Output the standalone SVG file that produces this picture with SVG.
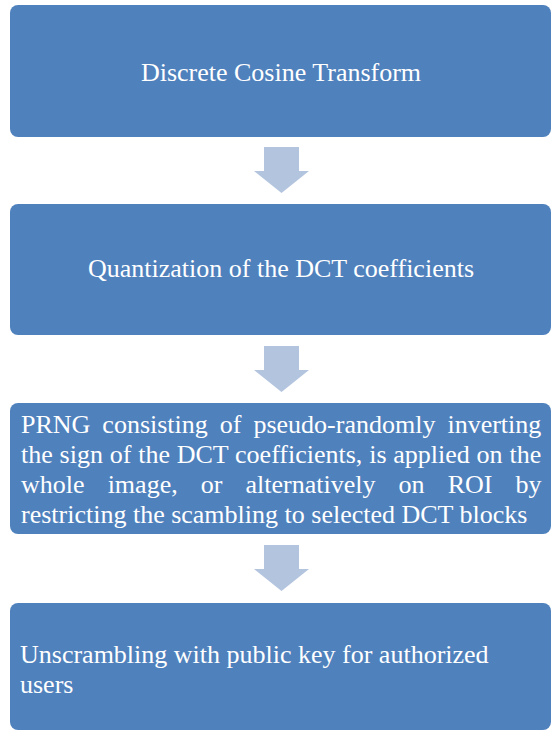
<svg xmlns="http://www.w3.org/2000/svg" width="552" height="731" viewBox="0 0 552 731">
<style>
.box{fill:#4f81bd;}
.arrow{fill:#b3c4df;}
text{font-family:'Liberation Serif','Times New Roman',serif;font-size:26px;fill:#ffffff;}
</style>
<rect width="552" height="731" fill="#ffffff"/>
<g id="n1"><rect class="box" x="10" y="5" width="541" height="132" rx="8"/><text x="281" y="81" text-anchor="middle">Discrete Cosine Transform</text></g>
<g id="n2"><rect class="box" x="10" y="204" width="541" height="131" rx="8"/><text x="281" y="277" text-anchor="middle">Quantization of the DCT coefficients</text></g>
<g id="n3"><rect class="box" x="10" y="403" width="541" height="131" rx="8"/>
<text x="21" y="433" word-spacing="5.5">PRNG consisting of pseudo-randomly inverting</text>
<text x="21" y="463" word-spacing="0.3">the sign of the DCT coefficients, is applied on the</text>
<text x="21" y="493" word-spacing="16.6">whole image, or alternatively on ROI by</text>
<text x="21" y="523">restricting the scambling to selected DCT blocks</text></g>
<g id="n4"><rect class="box" x="10" y="603" width="541" height="127" rx="8"/>
<text x="20" y="663">Unscrambling with public key for authorized</text>
<text x="20" y="693">users</text></g>
<g id="connectors">
<polygon class="arrow" points="264,147 299,147 299,171 309,171 281.5,193 254,171 264,171"/>
<polygon class="arrow" points="264,346 299,346 299,370 309,370 281.5,392 254,370 264,370"/>
<polygon class="arrow" points="264,545 299,545 299,569 309,569 281.5,591 254,569 264,569"/>
</g>
</svg>
